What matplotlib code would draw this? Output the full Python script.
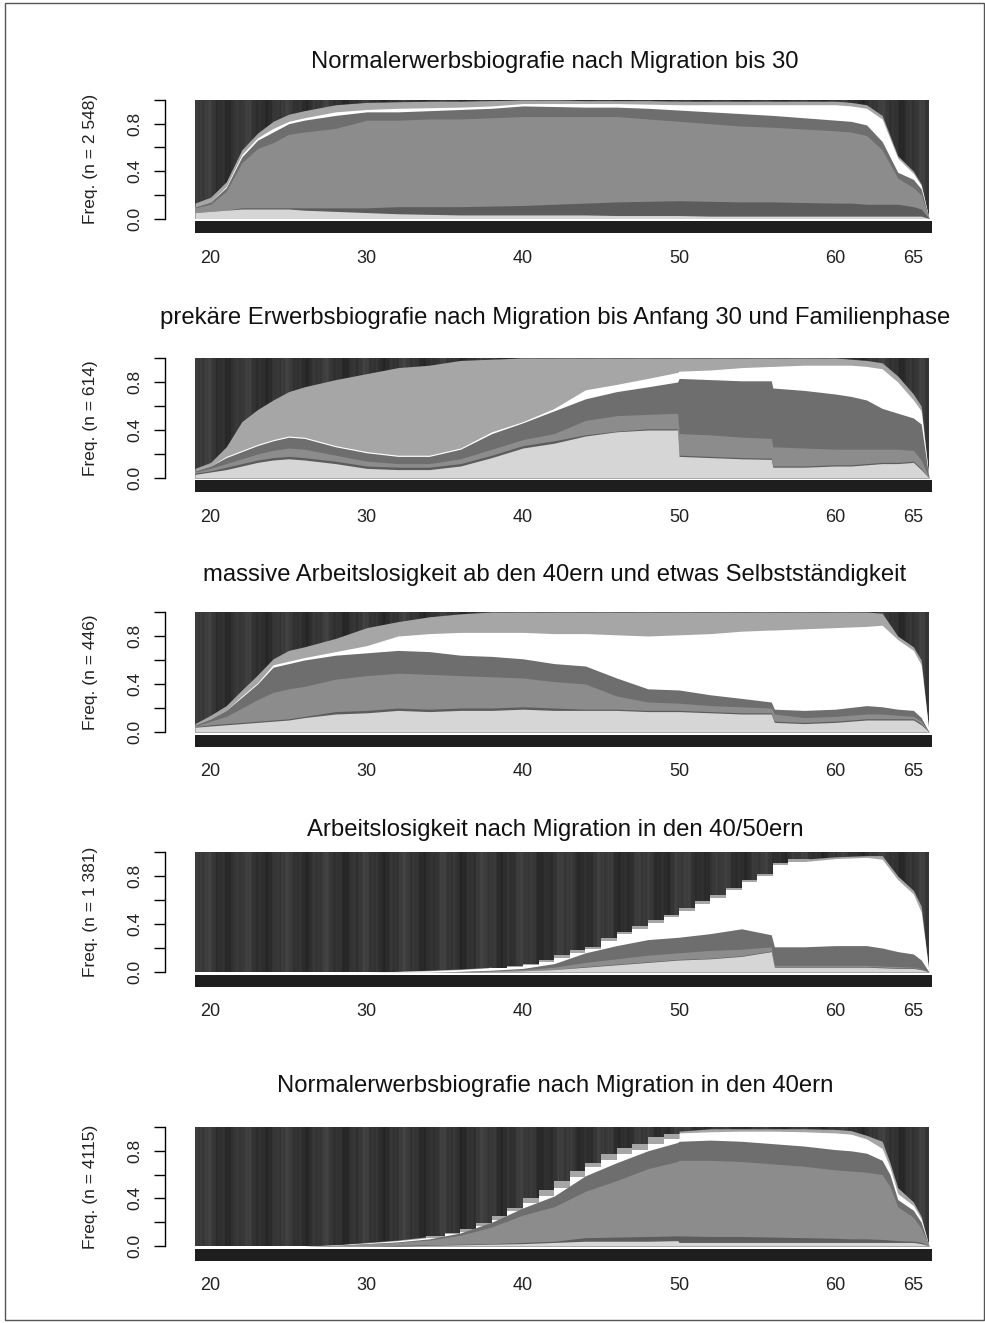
import numpy as np
import matplotlib
matplotlib.use("Agg")
import matplotlib.pyplot as plt
from matplotlib.patches import Rectangle

plt.rcParams['font.family'] = ['Liberation Sans', 'DejaVu Sans']

# ---------------- data (cumulative shares of states 1..6, state 7 = rest) -------------
state_colors = ['#d6d6d6', '#5c5c5c', '#8c8c8c', '#6e6e6e', '#ffffff', '#a6a6a6']
top_color = '#363636'

titles = [
    "Normalerwerbsbiografie nach Migration bis 30",
    "prekäre Erwerbsbiografie nach Migration bis Anfang 30 und Familienphase",
    "massive Arbeitslosigkeit ab den 40ern und etwas Selbstständigkeit",
    "Arbeitslosigkeit nach Migration in den 40/50ern",
    "Normalerwerbsbiografie nach Migration in den 40ern",
]
ylabels = ["Freq. (n = 2 548)", "Freq. (n = 614)", "Freq. (n = 446)",
           "Freq. (n = 1 381)", "Freq. (n = 4115)"]
xtick_vals = [20, 30, 40, 50, 60, 65]
ytick_vals = [0.0, 0.2, 0.4, 0.6, 0.8, 1.0]
ytick_labels = ["0.0", "", "0.4", "", "0.8", ""]

p1_age = [19, 20, 21, 22, 23, 24, 25, 26, 28, 30, 32, 34, 36, 38, 40, 42, 44, 46, 48,
          50, 52, 54, 56, 58, 60, 61, 62, 63, 64, 65, 65.5, 66]
p1_cum = [
    [.05, .05, .09, .10, .10, .13], [.06, .06, .12, .14, .14, .18],
    [.07, .07, .23, .26, .27, .31], [.08, .09, .47, .52, .54, .58],
    [.08, .09, .59, .66, .68, .72], [.08, .09, .64, .73, .76, .82],
    [.08, .09, .71, .80, .82, .88], [.07, .09, .73, .83, .85, .91],
    [.06, .09, .76, .87, .90, .96], [.05, .09, .83, .90, .92, .98],
    [.04, .10, .83, .90, .93, .985], [.035, .10, .84, .91, .935, .99],
    [.03, .10, .84, .92, .94, .99], [.03, .105, .85, .93, .95, .995],
    [.03, .11, .86, .95, .97, 1.0], [.03, .12, .86, .945, .97, 1.0],
    [.03, .13, .86, .94, .97, .995], [.025, .14, .86, .94, .97, .995],
    [.025, .145, .84, .93, .965, .995], [.025, .15, .82, .915, .96, .99],
    [.02, .145, .80, .90, .96, .99], [.02, .14, .78, .885, .96, .99],
    [.02, .14, .77, .87, .96, .99], [.02, .135, .755, .85, .96, .99],
    [.02, .13, .74, .83, .96, .99], [.02, .13, .73, .82, .95, .98],
    [.02, .12, .70, .79, .93, .96], [.02, .12, .58, .65, .84, .87],
    [.02, .12, .34, .39, .51, .53], [.02, .10, .26, .33, .38, .40],
    [.02, .08, .20, .25, .28, .29], [0, 0, 0, 0, 0, 0],
]

p2_age = [19, 20, 21, 22, 23, 24, 25, 26, 28, 30, 32, 34, 36, 38, 40, 42, 44, 46, 48,
          49.9, 50, 52, 54, 55.9, 56, 58, 60, 61, 62, 63, 64, 65, 65.5, 66]
p2_cum = [
    [.03, .04, .05, .06, .06, .08], [.05, .06, .08, .10, .10, .13],
    [.07, .09, .12, .17, .18, .26], [.10, .12, .16, .22, .23, .47],
    [.13, .15, .20, .27, .28, .57], [.15, .17, .23, .31, .32, .65],
    [.16, .18, .25, .34, .35, .72], [.15, .17, .24, .33, .34, .76],
    [.12, .14, .19, .26, .27, .82], [.08, .10, .14, .21, .22, .87],
    [.07, .09, .12, .18, .19, .92], [.07, .09, .12, .18, .19, .94],
    [.10, .12, .16, .24, .25, .98], [.17, .19, .24, .37, .385, .99],
    [.25, .27, .32, .46, .47, 1.0], [.29, .31, .37, .56, .58, 1.0],
    [.35, .36, .48, .66, .735, 1.0], [.385, .39, .52, .72, .78, 1.0],
    [.40, .41, .53, .76, .83, 1.0], [.40, .41, .54, .80, .88, 1.0],
    [.18, .19, .37, .83, .89, 1.0], [.17, .18, .36, .82, .90, 1.0],
    [.16, .17, .34, .81, .92, 1.0], [.155, .165, .33, .81, .93, 1.0],
    [.09, .10, .26, .75, .93, 1.0], [.09, .10, .25, .73, .94, 1.0],
    [.10, .11, .24, .70, .94, 1.0], [.10, .11, .24, .68, .94, .99],
    [.11, .12, .24, .65, .93, .98], [.12, .13, .24, .58, .91, .96],
    [.12, .13, .24, .54, .80, .85], [.13, .14, .23, .50, .65, .70],
    [.07, .08, .15, .45, .56, .60], [0, 0, 0, 0, 0, 0],
]

p3_age = [19, 20, 21, 22, 23, 24, 25, 26, 28, 30, 32, 34, 36, 38, 40, 42, 44, 46, 48,
          50, 52, 54, 55.9, 56.1, 58, 60, 62, 63, 64, 65, 65.5, 66]
p3_cum = [
    [.04, .045, .05, .06, .06, .07], [.05, .06, .09, .11, .11, .14],
    [.06, .07, .13, .18, .18, .22], [.07, .08, .20, .29, .30, .35],
    [.08, .09, .27, .40, .41, .475], [.09, .10, .33, .54, .56, .61],
    [.10, .11, .36, .57, .59, .68], [.12, .13, .38, .60, .62, .71],
    [.15, .17, .44, .64, .67, .78], [.16, .18, .47, .66, .72, .87],
    [.18, .20, .49, .68, .80, .92], [.17, .19, .48, .67, .82, .96],
    [.18, .20, .47, .64, .83, .985], [.18, .20, .46, .63, .83, 1.0],
    [.19, .21, .45, .61, .83, 1.0], [.18, .20, .42, .57, .82, 1.0],
    [.18, .19, .40, .55, .82, 1.0], [.18, .19, .30, .45, .81, 1.0],
    [.17, .18, .25, .36, .80, 1.0], [.17, .18, .24, .35, .81, 1.0],
    [.16, .17, .22, .31, .82, 1.0], [.15, .16, .21, .28, .84, 1.0],
    [.15, .16, .20, .25, .85, 1.0], [.08, .09, .15, .19, .85, 1.0],
    [.07, .08, .12, .18, .86, 1.0], [.08, .09, .13, .19, .87, 1.0],
    [.10, .11, .15, .22, .88, 1.0], [.10, .11, .15, .21, .89, .99],
    [.10, .11, .14, .19, .77, .80], [.10, .11, .13, .18, .68, .71],
    [.06, .07, .09, .12, .56, .60], [0, 0, 0, 0, 0, 0],
]

p4_age = [19, 30, 32, 34, 36, 38, 40, 42, 44, 46, 48, 50, 52, 54, 55.9, 56.1, 58, 60,
          62, 63, 64, 65, 65.5, 66]
p4_cum = [
    [0, 0, 0, 0, 0, 0], [0, 0, 0, 0, 0, 0],
    [0, 0, 0, 0, .005, .005], [0, 0, 0, 0, .01, .015],
    [0, 0, .005, .005, .02, .025], [.005, .005, .01, .015, .035, .04],
    [.01, .01, .02, .03, .06, .07], [.02, .02, .04, .07, .12, .13],
    [.04, .045, .08, .16, .19, .21], [.06, .065, .11, .22, .28, .30],
    [.08, .085, .14, .27, .36, .38], [.10, .105, .16, .29, .45, .47],
    [.11, .115, .18, .32, .56, .58], [.13, .135, .19, .36, .68, .70],
    [.17, .175, .21, .31, .79, .81], [.04, .045, .055, .21, .84, .86],
    [.04, .045, .055, .21, .92, .94], [.04, .045, .055, .22, .945, .96],
    [.04, .045, .055, .22, .955, .97], [.035, .04, .05, .20, .94, .97],
    [.03, .035, .045, .17, .77, .80], [.03, .035, .04, .15, .65, .68],
    [.02, .025, .03, .10, .50, .55], [0, 0, 0, 0, 0, 0],
]
# yearly staircase of the upper states (migration cohorts), panel 4
p4_stair_age = [38, 39, 40, 41, 42, 43, 44, 45, 46, 47, 48, 49, 50, 51, 52, 53, 54, 55,
                56, 57, 58]
p4_stair_s6 = [.035, .05, .07, .10, .14, .18, .21, .28, .335, .38, .43, .475, .53, .59,
               .64, .70, .77, .82, .91, .94, .94]
p4_stair_s5 = [.03, .045, .06, .085, .12, .16, .19, .26, .315, .36, .41, .455, .51, .57,
               .62, .68, .75, .80, .89, .92, .92]

p5_age = [19, 26, 28, 30, 32, 34, 36, 38, 40, 42, 44, 46, 48, 49.9, 50, 52, 54, 56,
          58, 60, 61, 62, 63, 63.5, 64, 65, 65.5, 66]
p5_cum = [
    [0, 0, 0, 0, 0, 0], [0, 0, 0, 0, 0, 0],
    [0, 0, .005, .005, .008, .01], [0, 0, .02, .02, .025, .03],
    [0, .005, .03, .035, .045, .05], [.005, .01, .05, .06, .07, .08],
    [.01, .015, .09, .11, .12, .14], [.015, .02, .16, .20, .22, .25],
    [.02, .03, .26, .32, .35, .40], [.03, .04, .33, .42, .48, .55],
    [.04, .07, .46, .59, .66, .70], [.04, .075, .55, .70, .76, .82],
    [.04, .08, .65, .80, .85, .915], [.045, .085, .71, .87, .91, .95],
    [.03, .085, .72, .88, .95, .965], [.03, .08, .72, .89, .96, .985],
    [.03, .08, .71, .88, .965, .985], [.03, .075, .69, .86, .965, .985],
    [.03, .07, .67, .84, .96, .985], [.03, .065, .64, .81, .95, .98],
    [.03, .06, .63, .80, .94, .97], [.03, .06, .62, .78, .90, .93],
    [.03, .055, .60, .72, .82, .88], [.03, .05, .50, .60, .66, .70],
    [.03, .045, .33, .39, .44, .49], [.03, .04, .24, .30, .34, .37],
    [.02, .03, .15, .20, .23, .25], [0, 0, 0, 0, 0, 0],
]
p5_stair_age = [34, 35, 36, 37, 38, 39, 40, 41, 42, 43, 44, 45, 46, 47, 48, 49, 50]
p5_stair_s6 = [.08, .11, .14, .19, .25, .32, .40, .47, .55, .63, .70, .775, .82, .86,
               .915, .94, .94]
p5_stair_s5 = [.07, .10, .12, .17, .22, .29, .36, .42, .49, .58, .66, .72, .77, .81,
               .86, .90, .90]

panels_data = [(p1_age, p1_cum, None), (p2_age, p2_cum, None), (p3_age, p3_cum, None),
               (p4_age, p4_cum, (p4_stair_age, p4_stair_s5, p4_stair_s6)),
               (p5_age, p5_cum, (p5_stair_age, p5_stair_s5, p5_stair_s6))]

# ---------------- layout (pixels) ----------------
W, H = 985, 1323
fig = plt.figure(figsize=(W / 100, H / 100), dpi=100)

# outer frame
fig.add_artist(Rectangle((4.5 / W, 1 - 1320 / H), (983.5 - 4.5) / W, (1320 - 3) / H,
                         transform=fig.transFigure, fill=False, edgecolor='#555555',
                         linewidth=1.0))

layout = [  # left, right, top, bottom, title_y
    (195, 929, 100, 218.5, 62),
    (195, 929, 358, 478, 318),
    (195, 929, 612, 732, 575),
    (195, 929, 852, 972, 830),
    (195, 929, 1127, 1246, 1086),
]

# texture of the top (dark) state: vertical shading stripes, purely cosmetic
tex_x = np.linspace(19, 66, 564)
tex = (0.205 + 0.035 * np.sin(2 * np.pi * (tex_x - 19) / 2.55)
       + 0.018 * np.sin(2 * np.pi * (tex_x - 19) / 0.83 + 1.0)
       + 0.012 * np.sin(2 * np.pi * (tex_x - 19) / 0.29 + 0.4))[None, :]

for i, ((l, r, t, b, ty), (ages, cum, stairs)) in enumerate(zip(layout, panels_data)):
    ax = fig.add_axes([l / W, 1 - b / H, (r - l) / W, (b - t) / H])
    ax.imshow(tex, extent=(19, 66, 0, 1), aspect='auto', cmap='gray', vmin=0, vmax=1,
              interpolation='nearest', zorder=0)
    ages_arr = np.array(ages, dtype=float)
    cum_arr = np.array(cum, dtype=float).T  # 6 x n
    for k in range(5, -1, -1):
        if stairs is not None and k >= 4:
            s_age = np.array(stairs[0], dtype=float)
            s_val = np.array(stairs[1] if k == 4 else stairs[2], dtype=float)
            lo, hi = s_age[0], s_age[-1]
            m_a = ages_arr <= lo
            m_b = ages_arr >= hi
            ax.fill_between(ages_arr[m_a], 0, cum_arr[k][m_a], color=state_colors[k],
                            linewidth=0, zorder=1)
            ax.fill_between(ages_arr[m_b], 0, cum_arr[k][m_b], color=state_colors[k],
                            linewidth=0, zorder=1)
            # staircase, slightly overlapping the smooth parts to avoid seams
            s_age_ext = np.concatenate([[lo - 0.2], s_age, [hi + 0.4]])
            s_val_ext = np.concatenate([[s_val[0]], s_val, [s_val[-1]]])
            s_age_ext[1] = lo
            ax.fill_between(s_age_ext, 0, s_val_ext, step='post', color=state_colors[k],
                            linewidth=0, zorder=1)
        else:
            ax.fill_between(ages_arr, 0, cum_arr[k], color=state_colors[k],
                            linewidth=0, antialiased=True, zorder=1)
    ax.set_xlim(19, 66)
    ax.set_ylim(0, 1)
    for s in ['top', 'right', 'bottom']:
        ax.spines[s].set_visible(False)
    ax.spines['left'].set_position(('outward', 21.6))
    ax.spines['left'].set_bounds(0, 1)
    ax.spines['left'].set_linewidth(1.0)
    ax.set_yticks(ytick_vals)
    ax.set_yticklabels(ytick_labels, rotation=90, va='center', fontsize=12.5,
                       color='#222222')
    ax.tick_params(axis='y', length=7.9, width=1.0, pad=8.5, direction='out')
    ax.set_xticks(xtick_vals)
    ax.set_xticklabels([str(v) for v in xtick_vals], fontsize=13, color='#222222')
    ax.tick_params(axis='x', length=0, pad=22.5)
    hpx = b - t
    wpx = r - l
    ax.add_patch(Rectangle((0, -14.5 / hpx), (932 - l) / wpx, 12 / hpx,
                           transform=ax.transAxes, clip_on=False,
                           facecolor='#1e1e1e', edgecolor='none'))
    fig.text(555 / W, 1 - ty / H, titles[i], ha='center', va='center',
             fontsize=17.2, color='#111111')
    fig.text(90 / W, 1 - ((t + b) / 2) / H, ylabels[i], ha='center', va='center',
             rotation=90, fontsize=12.5, color='#222222')

fig.savefig("out.png", dpi=100)
